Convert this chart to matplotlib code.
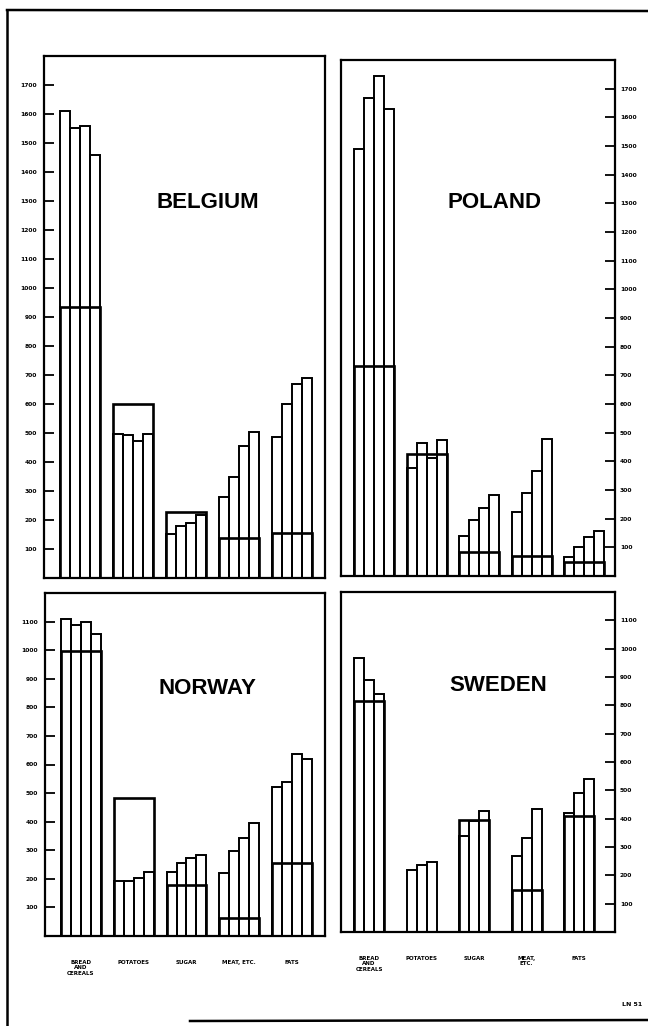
import matplotlib
matplotlib.use("Agg")
import matplotlib.pyplot as plt
from matplotlib.lines import Line2D
import numpy as np

# categories (bottom labels)
cats_left = ["BREAD\nAND\nCEREALS", "POTATOES", "SUGAR", "MEAT, ETC.", "FATS"]
cats_right = ["BREAD\nAND\nCEREALS", "POTATOES", "SUGAR", "MEAT,\nETC.", "FATS"]

# bar heights per food group (one value per year)
belgium_bars = [[1610, 1553, 1558, 1458], [498, 493, 474, 497], [152, 181, 189, 216],
                [281, 350, 456, 502], [486, 601, 670, 690]]
belgium_ref = [933, 600, 229, 137, 154]

poland_bars = [[1490, 1668, 1744, 1630], [376, 465, 411, 473], [141, 197, 236, 281],
               [222, 290, 367, 477], [65, 100, 137, 158]]
poland_ref = [732, 427, 83, 71, 48]

norway_bars = [[1110, 1087, 1100, 1056], [192, 192, 204, 225], [225, 254, 273, 282],
               [219, 296, 344, 397], [521, 538, 637, 620]]
norway_ref = [998, 484, 180, 64, 254]

sweden_bars = [[968, 890, 839], [218, 238, 247], [338, 392, 427],
               [267, 333, 433], [420, 490, 541]]
sweden_ref = [814, None, 396, 147, 408]

ticks_top = list(range(100, 1800, 100))
ticks_bottom = list(range(100, 1200, 100))

W, H = 648, 1026
fig = plt.figure(figsize=(W / 100, H / 100), dpi=100)


def px_axes(x0, y0, x1, y1):
    # pixel box (top-left origin) -> figure axes
    return fig.add_axes([x0 / W, 1 - y1 / H, (x1 - x0) / W, (y1 - y0) / H])


def draw_panel(ax, bars, refs, spacing, xlim, ylim, ticks, side, title, txy, labels=None, lpad=17):
    for g, vals in enumerate(bars):
        x0 = g * spacing
        n = len(vals)
        xs = x0 + np.arange(n) + 0.5
        ax.bar(xs, vals, width=1.0, fill=False, edgecolor="black", linewidth=1.4)
        if refs[g] is not None:
            ax.bar(x0 + n / 2, refs[g], width=n, fill=False, edgecolor="black",
                   linewidth=1.9)
    ax.set_xlim(*xlim)
    ax.set_ylim(*ylim)
    for s in ax.spines.values():
        s.set_linewidth(1.6)
    ax.set_yticks(ticks)
    ax.set_yticklabels([str(t) for t in ticks], fontsize=4.3, fontweight="bold")
    if side == "right":
        ax.yaxis.tick_right()
        ax.tick_params(axis="y", direction="in", length=7, width=1.3, pad=3.5)
    else:
        ax.tick_params(axis="y", direction="in", length=7, width=1.3, pad=5)
    if labels is None:
        ax.set_xticks([])
    else:
        centers = [g * spacing + len(v) / 2 for g, v in enumerate(bars)]
        ax.set_xticks(centers)
        ax.set_xticklabels(labels, fontsize=4, fontweight="bold", linespacing=1.15,
                           va="top")
        ax.tick_params(axis="x", length=0, pad=lpad)
    ax.text(txy[0], txy[1], title, transform=ax.transAxes, ha="center", va="center",
            fontsize=16, fontweight="bold", family=["Liberation Sans", "DejaVu Sans"])


ax1 = px_axes(44, 56, 325, 578)
draw_panel(ax1, belgium_bars, belgium_ref, 5.3, (-1.6, 26.5), (0, 1800), ticks_top,
           "left", "BELGIUM", (0.584, 0.72))

ax2 = px_axes(341, 60, 615, 576)
draw_panel(ax2, poland_bars, poland_ref, 5.25, (-1.3, 26.1), (0, 1800), ticks_top,
           "right", "POLAND", (0.56, 0.723))

ax3 = px_axes(45, 593, 325, 936)
draw_panel(ax3, norway_bars, norway_ref, 5.3, (-1.6, 26.5), (0, 1200), ticks_bottom,
           "left", "NORWAY", (0.579, 0.722), labels=cats_left, lpad=17)

ax4 = px_axes(341, 592, 615, 932)
draw_panel(ax4, sweden_bars, sweden_ref, 5.25, (-1.3, 26.1), (0, 1200), ticks_bottom,
           "right", "SWEDEN", (0.573, 0.724), labels=cats_right, lpad=17)

# outer frame of the scanned sheet
def fig_line(xs, ys, lw=1.8):
    fig.add_artist(Line2D([x / W for x in xs], [1 - y / H for y in ys],
                          color="black", linewidth=lw))

fig_line([7, 7], [10, 1026])
fig_line([7, 648], [10, 11])
fig_line([190, 648], [1021, 1020])

fig.text(622 / W, 1 - 1004 / H, "LN 51", fontsize=4.5, fontweight="bold",
         ha="left", va="center")

fig.savefig("out.png", dpi=100, facecolor="white")
